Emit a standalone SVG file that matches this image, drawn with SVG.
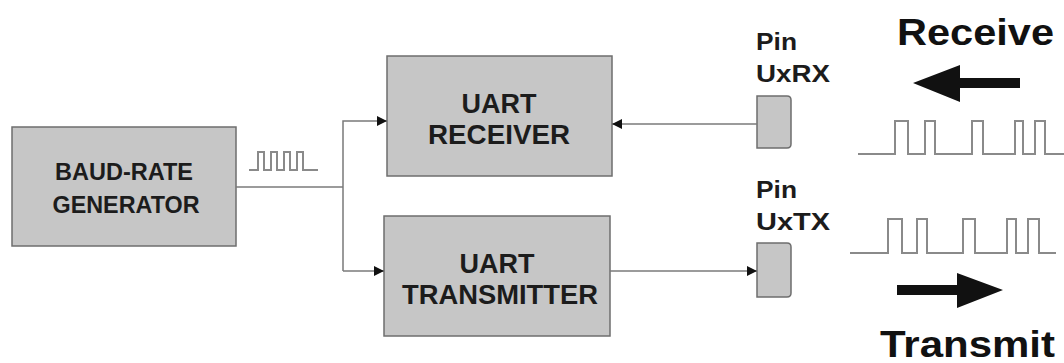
<svg xmlns="http://www.w3.org/2000/svg" width="1064" height="363" viewBox="0 0 1064 363">
<style>
.box{fill:#c6c6c6;stroke:#6e6e6e;stroke-width:1.5}
.pin{fill:#c6c6c6;stroke:#6e6e6e;stroke-width:1.5}
.t{font-family:"Liberation Sans",Arial,sans-serif;font-weight:bold;fill:#1c1c1c}
.ln{fill:none;stroke:#7a7a7a;stroke-width:1.5}
.wave{fill:none;stroke:#8a8a8a;stroke-width:2}
.big{fill:#111}
</style>
<defs>
<marker id="ah" viewBox="0 0 10 10" refX="10" refY="5" markerWidth="10" markerHeight="10" markerUnits="userSpaceOnUse" orient="auto">
<path d="M0,0 L10,5 L0,10 z" fill="#111"/>
</marker>
</defs>
<rect width="1064" height="363" fill="#ffffff"/>
<g id="baud">
<rect class="box" x="12" y="127" width="224" height="119"/>
<text class="t" x="124" y="180" font-size="23" text-anchor="middle" textLength="138" lengthAdjust="spacingAndGlyphs">BAUD-RATE</text>
<text class="t" x="126" y="213" font-size="23" text-anchor="middle" textLength="147" lengthAdjust="spacingAndGlyphs">GENERATOR</text>
</g>
<g id="receiver">
<rect class="box" x="387" y="56" width="225" height="120"/>
<text class="t" x="499" y="113" font-size="27" text-anchor="middle">UART</text>
<text class="t" x="499" y="144" font-size="27" text-anchor="middle" textLength="142" lengthAdjust="spacingAndGlyphs">RECEIVER</text>
</g>
<g id="transmitter">
<rect class="box" x="384" y="216" width="226" height="120"/>
<text class="t" x="497" y="273" font-size="27" text-anchor="middle">UART</text>
<text class="t" x="500" y="304" font-size="27" text-anchor="middle" textLength="196" lengthAdjust="spacingAndGlyphs">TRANSMITTER</text>
</g>
<g id="pin-rx">
<path class="pin" d="M757,96 H787 Q791,96 791,100 V144 Q791,148 787,148 H757 Z"/>
<text class="t" x="756" y="50" font-size="24" textLength="41" lengthAdjust="spacingAndGlyphs">Pin</text>
<text class="t" x="756" y="82" font-size="24" textLength="74" lengthAdjust="spacingAndGlyphs">UxRX</text>
</g>
<g id="pin-tx">
<path class="pin" d="M757,243 H787 Q791,243 791,247 V293 Q791,297 787,297 H757 Z"/>
<text class="t" x="756" y="198" font-size="24" textLength="41" lengthAdjust="spacingAndGlyphs">Pin</text>
<text class="t" x="756" y="230" font-size="24" textLength="74" lengthAdjust="spacingAndGlyphs">UxTX</text>
</g>
<g id="receive">
<text class="t big" x="897" y="45" font-size="36" textLength="157" lengthAdjust="spacingAndGlyphs">Receive</text>
<path class="big" d="M913,83 L960,65 L960,78 L1020,78 L1020,88 L960,88 L960,102 Z"/>
<path class="wave" d="M858,154 H895 V121 H908 V154 H925 V121 H935 V154 H972 V121 H983 V154 H1015 V121 H1023 V154 H1035 V121 H1045 V154 H1064"/>
</g>
<g id="transmit">
<text class="t big" x="880" y="357" font-size="36" textLength="175" lengthAdjust="spacingAndGlyphs">Transmit</text>
<path class="big" d="M1003,290 L957,273 L957,285 L897,285 L897,295 L957,295 L957,308 Z"/>
<path class="wave" d="M850,253 H888 V219 H902 V253 H917 V219 H927 V253 H963 V219 H975 V253 H1007 V219 H1016 V253 H1028 V219 H1039 V253 H1056"/>
</g>
<g id="clock">
<path class="wave" d="M249,170 H258 V152 H264 V170 H271 V152 H277 V170 H284 V152 H290 V170 H297 V152 H303 V170 H318"/>
</g>
<g id="connectors">
<path class="ln" d="M236,187 H343"/>
<path class="ln" d="M343,271 V121 H387" marker-end="url(#ah)"/>
<path class="ln" d="M343,271 H384" marker-end="url(#ah)"/>
<path class="ln" d="M757,124 H612" marker-end="url(#ah)"/>
<path class="ln" d="M610,271 H757" marker-end="url(#ah)"/>
</g>
</svg>
